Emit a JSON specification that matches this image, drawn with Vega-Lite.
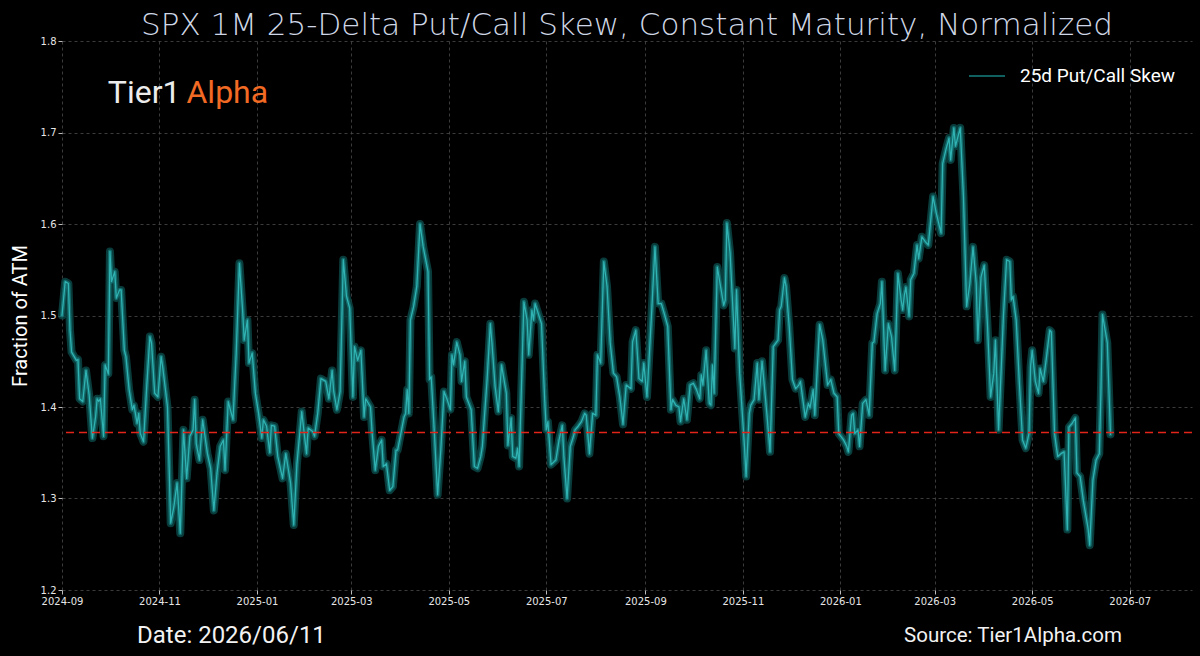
{
"$schema": "https://vega.github.io/schema/vega-lite/v6.json",
"width": 1130,
"height": 549,
"autosize": {"type": "none"},
"padding": {"left": 62, "top": 41, "right": 8, "bottom": 66},
"background": "#000000",
"config": {"view": {"stroke": null}, "font": "Roboto"},
"title": {"text": "SPX 1M 25-Delta Put/Call Skew, Constant Maturity, Normalized", "fontSize": 31, "font": "DejaVu Sans", "fontWeight": 200, "color": "#cfd7e6", "anchor": "middle", "offset": -6},
"datasets": {
"skew": [
{"date":"2024-09-01","skew":1.500},{"date":"2024-09-03","skew":1.537},{"date":"2024-09-05","skew":1.535},{"date":"2024-09-06","skew":1.484},{"date":"2024-09-07","skew":1.460},{"date":"2024-09-10","skew":1.451},{"date":"2024-09-11","skew":1.452},{"date":"2024-09-12","skew":1.409},{"date":"2024-09-14","skew":1.406},{"date":"2024-09-16","skew":1.440},{"date":"2024-09-18","skew":1.413},{"date":"2024-09-20","skew":1.366},{"date":"2024-09-22","skew":1.389},{"date":"2024-09-23","skew":1.409},{"date":"2024-09-24","skew":1.406},{"date":"2024-09-25","skew":1.409},{"date":"2024-09-27","skew":1.368},{"date":"2024-09-28","skew":1.446},{"date":"2024-09-30","skew":1.436},
{"date":"2024-10-01","skew":1.570},{"date":"2024-10-02","skew":1.537},{"date":"2024-10-04","skew":1.548},{"date":"2024-10-05","skew":1.519},{"date":"2024-10-07","skew":1.528},{"date":"2024-10-08","skew":1.528},{"date":"2024-10-10","skew":1.462},{"date":"2024-10-11","skew":1.455},{"date":"2024-10-13","skew":1.419},{"date":"2024-10-15","skew":1.397},{"date":"2024-10-16","skew":1.402},{"date":"2024-10-18","skew":1.382},{"date":"2024-10-19","skew":1.393},{"date":"2024-10-20","skew":1.371},{"date":"2024-10-22","skew":1.362},{"date":"2024-10-24","skew":1.422},{"date":"2024-10-26","skew":1.477},{"date":"2024-10-27","skew":1.470},{"date":"2024-10-29","skew":1.415},{"date":"2024-10-31","skew":1.411},
{"date":"2024-11-02","skew":1.455},{"date":"2024-11-03","skew":1.444},{"date":"2024-11-06","skew":1.400},{"date":"2024-11-08","skew":1.273},{"date":"2024-11-10","skew":1.291},{"date":"2024-11-12","skew":1.317},{"date":"2024-11-14","skew":1.262},{"date":"2024-11-16","skew":1.375},{"date":"2024-11-18","skew":1.322},{"date":"2024-11-20","skew":1.368},{"date":"2024-11-22","skew":1.375},{"date":"2024-11-23","skew":1.408},{"date":"2024-11-24","skew":1.360},{"date":"2024-11-26","skew":1.342},{"date":"2024-11-28","skew":1.386},
{"date":"2024-12-01","skew":1.349},{"date":"2024-12-03","skew":1.333},{"date":"2024-12-05","skew":1.287},{"date":"2024-12-07","skew":1.328},{"date":"2024-12-09","skew":1.357},{"date":"2024-12-11","skew":1.364},{"date":"2024-12-12","skew":1.331},{"date":"2024-12-14","skew":1.406},{"date":"2024-12-17","skew":1.386},{"date":"2024-12-19","skew":1.459},{"date":"2024-12-21","skew":1.557},{"date":"2024-12-23","skew":1.506},{"date":"2024-12-24","skew":1.473},{"date":"2024-12-26","skew":1.495},{"date":"2024-12-27","skew":1.448},{"date":"2024-12-29","skew":1.459},{"date":"2024-12-31","skew":1.415},
{"date":"2025-01-02","skew":1.393},{"date":"2025-01-04","skew":1.366},{"date":"2025-01-05","skew":1.386},{"date":"2025-01-07","skew":1.379},{"date":"2025-01-09","skew":1.350},{"date":"2025-01-10","skew":1.380},{"date":"2025-01-12","skew":1.379},{"date":"2025-01-14","skew":1.346},{"date":"2025-01-17","skew":1.322},{"date":"2025-01-19","skew":1.349},{"date":"2025-01-22","skew":1.317},{"date":"2025-01-24","skew":1.271},{"date":"2025-01-26","skew":1.338},{"date":"2025-01-29","skew":1.395},{"date":"2025-01-31","skew":1.364},
{"date":"2025-02-01","skew":1.349},{"date":"2025-02-02","skew":1.377},{"date":"2025-02-05","skew":1.373},{"date":"2025-02-06","skew":1.368},{"date":"2025-02-08","skew":1.393},{"date":"2025-02-10","skew":1.431},{"date":"2025-02-13","skew":1.428},{"date":"2025-02-15","skew":1.409},{"date":"2025-02-17","skew":1.440},{"date":"2025-02-18","skew":1.417},{"date":"2025-02-20","skew":1.397},{"date":"2025-02-22","skew":1.417},{"date":"2025-02-24","skew":1.561},{"date":"2025-02-26","skew":1.521},{"date":"2025-02-28","skew":1.508},
{"date":"2025-03-02","skew":1.411},{"date":"2025-03-03","skew":1.466},{"date":"2025-03-05","skew":1.451},{"date":"2025-03-07","skew":1.462},{"date":"2025-03-09","skew":1.389},{"date":"2025-03-10","skew":1.409},{"date":"2025-03-13","skew":1.400},{"date":"2025-03-14","skew":1.373},{"date":"2025-03-16","skew":1.331},{"date":"2025-03-18","skew":1.357},{"date":"2025-03-20","skew":1.364},{"date":"2025-03-21","skew":1.335},{"date":"2025-03-23","skew":1.338},{"date":"2025-03-25","skew":1.309},{"date":"2025-03-27","skew":1.313},{"date":"2025-03-29","skew":1.353},{"date":"2025-03-30","skew":1.353},
{"date":"2025-04-01","skew":1.371},{"date":"2025-04-03","skew":1.389},{"date":"2025-04-04","skew":1.393},{"date":"2025-04-05","skew":1.419},{"date":"2025-04-06","skew":1.393},{"date":"2025-04-07","skew":1.495},{"date":"2025-04-09","skew":1.510},{"date":"2025-04-11","skew":1.532},{"date":"2025-04-13","skew":1.600},{"date":"2025-04-15","skew":1.575},{"date":"2025-04-18","skew":1.548},{"date":"2025-04-19","skew":1.430},{"date":"2025-04-20","skew":1.433},{"date":"2025-04-22","skew":1.371},{"date":"2025-04-24","skew":1.304},{"date":"2025-04-26","skew":1.353},{"date":"2025-04-28","skew":1.417},{"date":"2025-04-30","skew":1.408},
{"date":"2025-05-02","skew":1.397},{"date":"2025-05-03","skew":1.457},{"date":"2025-05-04","skew":1.446},{"date":"2025-05-06","skew":1.471},{"date":"2025-05-08","skew":1.457},{"date":"2025-05-09","skew":1.428},{"date":"2025-05-11","skew":1.450},{"date":"2025-05-12","skew":1.411},{"date":"2025-05-15","skew":1.397},{"date":"2025-05-17","skew":1.335},{"date":"2025-05-19","skew":1.333},{"date":"2025-05-21","skew":1.346},{"date":"2025-05-22","skew":1.357},{"date":"2025-05-25","skew":1.431},{"date":"2025-05-27","skew":1.491},{"date":"2025-05-28","skew":1.470},{"date":"2025-05-30","skew":1.422},
{"date":"2025-06-01","skew":1.395},{"date":"2025-06-03","skew":1.446},{"date":"2025-06-06","skew":1.415},{"date":"2025-06-07","skew":1.358},{"date":"2025-06-09","skew":1.388},{"date":"2025-06-10","skew":1.346},{"date":"2025-06-12","skew":1.344},{"date":"2025-06-13","skew":1.355},{"date":"2025-06-14","skew":1.335},{"date":"2025-06-16","skew":1.455},{"date":"2025-06-17","skew":1.515},{"date":"2025-06-19","skew":1.495},{"date":"2025-06-20","skew":1.457},{"date":"2025-06-22","skew":1.506},{"date":"2025-06-23","skew":1.495},{"date":"2025-06-24","skew":1.513},{"date":"2025-06-28","skew":1.491},{"date":"2025-06-30","skew":1.408},
{"date":"2025-07-01","skew":1.375},{"date":"2025-07-02","skew":1.384},{"date":"2025-07-04","skew":1.337},{"date":"2025-07-07","skew":1.342},{"date":"2025-07-09","skew":1.364},{"date":"2025-07-11","skew":1.380},{"date":"2025-07-12","skew":1.346},{"date":"2025-07-14","skew":1.300},{"date":"2025-07-16","skew":1.357},{"date":"2025-07-18","skew":1.368},{"date":"2025-07-19","skew":1.375},{"date":"2025-07-21","skew":1.379},{"date":"2025-07-23","skew":1.384},{"date":"2025-07-25","skew":1.393},{"date":"2025-07-26","skew":1.391},{"date":"2025-07-28","skew":1.349},{"date":"2025-07-30","skew":1.393},
{"date":"2025-08-01","skew":1.391},{"date":"2025-08-02","skew":1.457},{"date":"2025-08-04","skew":1.448},{"date":"2025-08-06","skew":1.559},{"date":"2025-08-08","skew":1.532},{"date":"2025-08-10","skew":1.470},{"date":"2025-08-12","skew":1.437},{"date":"2025-08-14","skew":1.433},{"date":"2025-08-16","skew":1.411},{"date":"2025-08-18","skew":1.381},{"date":"2025-08-20","skew":1.424},{"date":"2025-08-23","skew":1.420},{"date":"2025-08-24","skew":1.471},{"date":"2025-08-26","skew":1.484},{"date":"2025-08-28","skew":1.431},{"date":"2025-08-30","skew":1.428},{"date":"2025-08-31","skew":1.448},
{"date":"2025-09-02","skew":1.411},{"date":"2025-09-05","skew":1.506},{"date":"2025-09-07","skew":1.575},{"date":"2025-09-09","skew":1.513},{"date":"2025-09-11","skew":1.513},{"date":"2025-09-13","skew":1.501},{"date":"2025-09-15","skew":1.488},{"date":"2025-09-17","skew":1.397},{"date":"2025-09-18","skew":1.408},{"date":"2025-09-20","skew":1.402},{"date":"2025-09-22","skew":1.400},{"date":"2025-09-23","skew":1.384},{"date":"2025-09-25","skew":1.409},{"date":"2025-09-27","skew":1.386},{"date":"2025-09-29","skew":1.424},
{"date":"2025-10-01","skew":1.426},{"date":"2025-10-03","skew":1.419},{"date":"2025-10-05","skew":1.409},{"date":"2025-10-06","skew":1.435},{"date":"2025-10-07","skew":1.424},{"date":"2025-10-09","skew":1.462},{"date":"2025-10-11","skew":1.404},{"date":"2025-10-12","skew":1.402},{"date":"2025-10-13","skew":1.446},{"date":"2025-10-14","skew":1.415},{"date":"2025-10-16","skew":1.553},{"date":"2025-10-18","skew":1.532},{"date":"2025-10-20","skew":1.511},{"date":"2025-10-21","skew":1.517},{"date":"2025-10-22","skew":1.601},{"date":"2025-10-24","skew":1.568},{"date":"2025-10-26","skew":1.499},{"date":"2025-10-27","skew":1.464},{"date":"2025-10-28","skew":1.528},{"date":"2025-10-30","skew":1.437},
{"date":"2025-11-02","skew":1.357},{"date":"2025-11-03","skew":1.324},{"date":"2025-11-05","skew":1.393},{"date":"2025-11-06","skew":1.402},{"date":"2025-11-08","skew":1.408},{"date":"2025-11-10","skew":1.448},{"date":"2025-11-11","skew":1.408},{"date":"2025-11-13","skew":1.450},{"date":"2025-11-16","skew":1.393},{"date":"2025-11-18","skew":1.351},{"date":"2025-11-20","skew":1.466},{"date":"2025-11-23","skew":1.473},{"date":"2025-11-24","skew":1.506},{"date":"2025-11-25","skew":1.510},{"date":"2025-11-27","skew":1.541},{"date":"2025-11-28","skew":1.532},{"date":"2025-11-30","skew":1.488},
{"date":"2025-12-02","skew":1.430},{"date":"2025-12-04","skew":1.420},{"date":"2025-12-06","skew":1.424},{"date":"2025-12-07","skew":1.428},{"date":"2025-12-10","skew":1.389},{"date":"2025-12-12","skew":1.404},{"date":"2025-12-13","skew":1.399},{"date":"2025-12-15","skew":1.419},{"date":"2025-12-16","skew":1.391},{"date":"2025-12-19","skew":1.490},{"date":"2025-12-21","skew":1.473},{"date":"2025-12-24","skew":1.424},{"date":"2025-12-26","skew":1.430},{"date":"2025-12-28","skew":1.415},{"date":"2025-12-30","skew":1.411},{"date":"2025-12-31","skew":1.371},
{"date":"2026-01-03","skew":1.364},{"date":"2026-01-05","skew":1.357},{"date":"2026-01-06","skew":1.351},{"date":"2026-01-08","skew":1.391},{"date":"2026-01-09","skew":1.393},{"date":"2026-01-10","skew":1.371},{"date":"2026-01-12","skew":1.375},{"date":"2026-01-13","skew":1.357},{"date":"2026-01-15","skew":1.404},{"date":"2026-01-17","skew":1.408},{"date":"2026-01-19","skew":1.391},{"date":"2026-01-21","skew":1.470},{"date":"2026-01-22","skew":1.471},{"date":"2026-01-24","skew":1.502},{"date":"2026-01-26","skew":1.513},{"date":"2026-01-27","skew":1.537},{"date":"2026-01-29","skew":1.440},{"date":"2026-01-31","skew":1.491},
{"date":"2026-02-02","skew":1.477},{"date":"2026-02-04","skew":1.440},{"date":"2026-02-06","skew":1.546},{"date":"2026-02-08","skew":1.517},{"date":"2026-02-09","skew":1.506},{"date":"2026-02-10","skew":1.522},{"date":"2026-02-11","skew":1.531},{"date":"2026-02-13","skew":1.499},{"date":"2026-02-14","skew":1.539},{"date":"2026-02-16","skew":1.546},{"date":"2026-02-18","skew":1.577},{"date":"2026-02-19","skew":1.562},{"date":"2026-02-21","skew":1.586},{"date":"2026-02-23","skew":1.581},{"date":"2026-02-25","skew":1.577},{"date":"2026-02-28","skew":1.630},
{"date":"2026-03-02","skew":1.612},{"date":"2026-03-05","skew":1.590},{"date":"2026-03-06","skew":1.666},{"date":"2026-03-08","skew":1.681},{"date":"2026-03-10","skew":1.694},{"date":"2026-03-11","skew":1.670},{"date":"2026-03-13","skew":1.705},{"date":"2026-03-14","skew":1.685},{"date":"2026-03-17","skew":1.705},{"date":"2026-03-19","skew":1.630},{"date":"2026-03-21","skew":1.510},{"date":"2026-03-23","skew":1.535},{"date":"2026-03-25","skew":1.575},{"date":"2026-03-27","skew":1.535},{"date":"2026-03-28","skew":1.473},{"date":"2026-03-30","skew":1.542},
{"date":"2026-04-01","skew":1.555},{"date":"2026-04-03","skew":1.491},{"date":"2026-04-05","skew":1.411},{"date":"2026-04-07","skew":1.437},{"date":"2026-04-08","skew":1.473},{"date":"2026-04-10","skew":1.375},{"date":"2026-04-13","skew":1.499},{"date":"2026-04-15","skew":1.561},{"date":"2026-04-17","skew":1.559},{"date":"2026-04-18","skew":1.517},{"date":"2026-04-19","skew":1.521},{"date":"2026-04-21","skew":1.495},{"date":"2026-04-23","skew":1.426},{"date":"2026-04-25","skew":1.364},{"date":"2026-04-27","skew":1.355},{"date":"2026-04-29","skew":1.371},{"date":"2026-04-30","skew":1.444},
{"date":"2026-05-01","skew":1.462},{"date":"2026-05-03","skew":1.428},{"date":"2026-05-05","skew":1.415},{"date":"2026-05-06","skew":1.442},{"date":"2026-05-08","skew":1.428},{"date":"2026-05-10","skew":1.455},{"date":"2026-05-12","skew":1.484},{"date":"2026-05-13","skew":1.482},{"date":"2026-05-15","skew":1.371},{"date":"2026-05-16","skew":1.358},{"date":"2026-05-17","skew":1.346},{"date":"2026-05-19","skew":1.349},{"date":"2026-05-21","skew":1.351},{"date":"2026-05-23","skew":1.266},{"date":"2026-05-24","skew":1.378},{"date":"2026-05-26","skew":1.382},{"date":"2026-05-28","skew":1.388},{"date":"2026-05-29","skew":1.328},{"date":"2026-05-31","skew":1.324},
{"date":"2026-06-02","skew":1.298},{"date":"2026-06-05","skew":1.267},{"date":"2026-06-06","skew":1.249},{"date":"2026-06-08","skew":1.320},{"date":"2026-06-10","skew":1.342},{"date":"2026-06-12","skew":1.349},{"date":"2026-06-13","skew":1.415},{"date":"2026-06-14","skew":1.501},{"date":"2026-06-17","skew":1.470},{"date":"2026-06-18","skew":1.420},{"date":"2026-06-19","skew":1.370}
],
"blank": [{}]
},
"layer": [
{
"data": {"name": "skew"},
"mark": {"type": "line", "color": "#0c4545", "strokeWidth": 8, "opacity": 0.85, "strokeJoin": "round", "strokeCap": "round"},
"encoding": {
"x": {"field": "date", "type": "temporal",
"scale": {"type": "utc", "domain": [{"year": 2024, "month": 9, "date": 1, "utc": true}, {"year": 2026, "month": 8, "date": 9, "utc": true}]},
"axis": {"values": [{"year":2024,"month":9,"date":1,"utc":true},{"year":2024,"month":11,"date":1,"utc":true},{"year":2025,"month":1,"date":1,"utc":true},{"year":2025,"month":3,"date":1,"utc":true},{"year":2025,"month":5,"date":1,"utc":true},{"year":2025,"month":7,"date":1,"utc":true},{"year":2025,"month":9,"date":1,"utc":true},{"year":2025,"month":11,"date":1,"utc":true},{"year":2026,"month":1,"date":1,"utc":true},{"year":2026,"month":3,"date":1,"utc":true},{"year":2026,"month":5,"date":1,"utc":true},{"year":2026,"month":7,"date":1,"utc":true}],
"format": "%Y-%m", "title": null, "labelColor": "#e6e6e6", "labelFont": "DejaVu Sans", "labelFontSize": 10, "labelPadding": 2, "tickColor": "#bbbbbb", "tickSize": 4, "domain": false, "grid": true, "gridColor": "#4a4a4a", "gridDash": [3, 3], "gridWidth": 0.8, "labelFlush": false}},
"y": {"field": "skew", "type": "quantitative",
"scale": {"domain": [1.2, 1.8], "nice": false, "zero": false},
"axis": {"values": [1.2, 1.3, 1.4, 1.5, 1.6, 1.7, 1.8], "format": ".1f", "title": "Fraction of ATM", "titleFont": "Roboto", "titleFontSize": 20, "titleFontWeight": "normal", "titleColor": "#ffffff", "titlePadding": 10, "labelColor": "#e6e6e6", "labelFont": "DejaVu Sans", "labelFontSize": 10, "labelPadding": 2, "tickColor": "#bbbbbb", "tickSize": 4, "domain": false, "grid": true, "gridColor": "#4a4a4a", "gridDash": [3, 3], "gridWidth": 0.8}}
}
},
{
"data": {"name": "skew"},
"mark": {"type": "line", "strokeWidth": 4, "opacity": 0.8, "strokeJoin": "round", "strokeCap": "round"},
"encoding": {
"x": {"field": "date", "type": "temporal"},
"y": {"field": "skew", "type": "quantitative"},
"color": {"datum": "25d Put/Call Skew", "type": "nominal",
"scale": {"range": ["#157878"]},
"legend": {"title": null, "orient": "top-right", "offset": 16, "padding": 0, "symbolType": "stroke", "symbolSize": 1296, "symbolStrokeWidth": 2, "labelFont": "Roboto", "labelFontSize": 19, "labelColor": "#ffffff", "labelOffset": 14}}
}
},
{
"data": {"name": "skew"},
"mark": {"type": "line", "color": "#31b3b3", "strokeWidth": 1.25, "strokeJoin": "round", "strokeCap": "round"},
"encoding": {
"x": {"field": "date", "type": "temporal"},
"y": {"field": "skew", "type": "quantitative"}
}
},
{
"data": {"name": "blank"},
"mark": {"type": "rule", "color": "#e3241b", "strokeDash": [8, 5], "strokeWidth": 1.5},
"encoding": {"y": {"datum": 1.372, "type": "quantitative"}}
},
{
"data": {"name": "blank"},
"mark": {"type": "text", "text": "Tier1", "font": "Roboto", "fontSize": 32, "color": "#ececec", "align": "right", "baseline": "middle", "dx": -3},
"encoding": {"x": {"datum": {"year": 2024, "month": 11, "date": 16, "utc": true}, "type": "temporal"}, "y": {"datum": 1.743, "type": "quantitative"}}
},
{
"data": {"name": "blank"},
"mark": {"type": "text", "text": "Alpha", "font": "Roboto", "fontSize": 32, "color": "#f26a24", "align": "left", "baseline": "middle", "dx": 3},
"encoding": {"x": {"datum": {"year": 2024, "month": 11, "date": 16, "utc": true}, "type": "temporal"}, "y": {"datum": 1.743, "type": "quantitative"}}
},
{
"data": {"name": "blank"},
"mark": {"type": "text", "text": "Date: 2026/06/11", "font": "Roboto", "fontSize": 24, "color": "#f2f2f2", "align": "center", "baseline": "middle"},
"encoding": {"x": {"datum": {"year": 2024, "month": 12, "date": 16, "utc": true}, "type": "temporal"}, "y": {"datum": 1.15, "type": "quantitative"}}
},
{
"data": {"name": "blank"},
"mark": {"type": "text", "text": "Source: Tier1Alpha.com", "font": "Roboto", "fontSize": 20.5, "color": "#f2f2f2", "align": "center", "baseline": "middle"},
"encoding": {"x": {"datum": {"year": 2026, "month": 4, "date": 19, "utc": true}, "type": "temporal"}, "y": {"datum": 1.15, "type": "quantitative"}}
}
]
}
